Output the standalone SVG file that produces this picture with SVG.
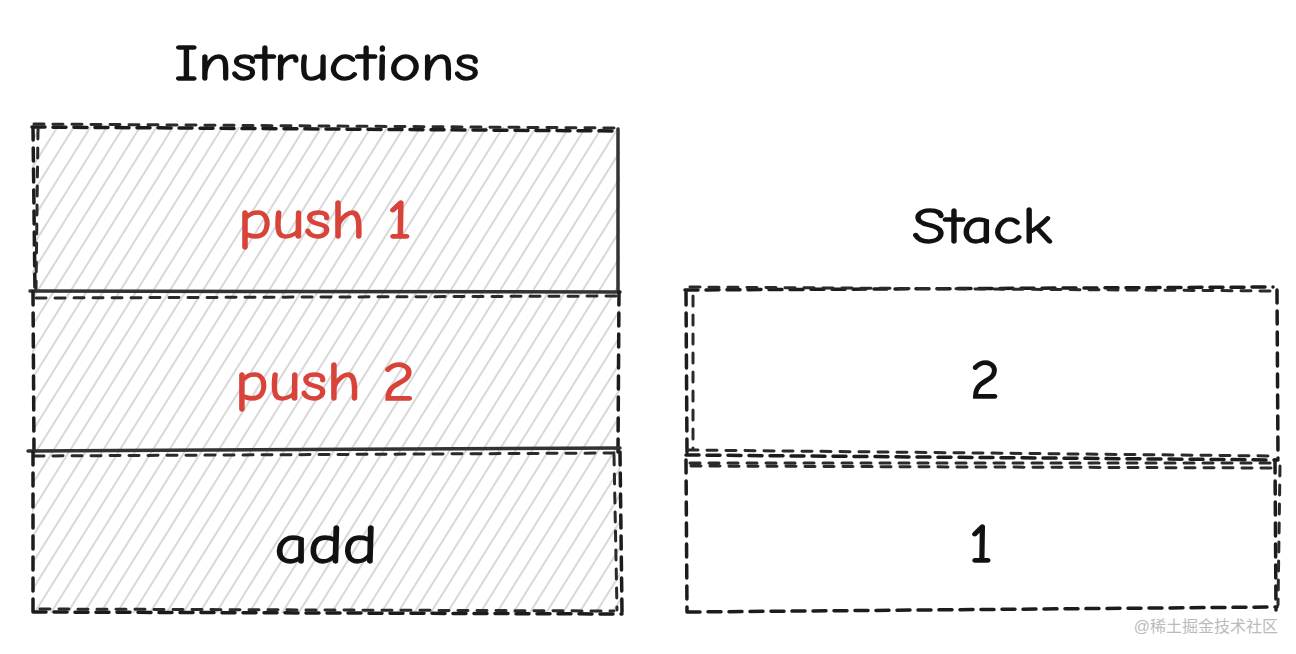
<svg xmlns="http://www.w3.org/2000/svg" width="1296" height="654" viewBox="0 0 1296 654">
<defs>
<pattern id="hatch" width="14" height="14" patternUnits="userSpaceOnUse" patternTransform="rotate(32)">
<line x1="4" y1="0" x2="4" y2="14" stroke="#d4d4d4" stroke-width="1.8"/>
</pattern>
</defs>
<style>
.t{font-family:"Comic Neue","Lato","Liberation Sans",sans-serif;text-anchor:middle;fill:#111;stroke:#111;stroke-width:1.3}
.red{fill:#d8433a;stroke:#d8433a}
.box{fill:none;stroke:#1c1c1c;stroke-width:3.5;stroke-dasharray:13 8;stroke-linecap:round}
.box2{fill:none;stroke:#2a2a2a;stroke-width:3;stroke-dasharray:10 9;stroke-linecap:round}
.solid{fill:none;stroke:#333;stroke-width:3.5;stroke-linecap:round}
</style>
<rect width="1296" height="654" fill="#fff"/>
<text class="t" x="327" y="80" font-size="50" textLength="305" lengthAdjust="spacingAndGlyphs">Instructions</text>
<text class="t" x="982" y="243" font-size="50" textLength="140" lengthAdjust="spacingAndGlyphs">Stack</text>
<g id="ins1">
<rect x="32" y="127" width="588" height="165" fill="url(#hatch)"/>
<path class="box" d="M32 127 L618 131 M33 127 L35 292"/>
<path class="box2" d="M34 124 L616 128 M38 129 L36 290"/>
<path class="solid" d="M618 129 L618 292"/>
<text class="t red" x="325" y="238" font-size="54" textLength="174" lengthAdjust="spacingAndGlyphs">push 1</text>
</g>
<g id="ins2">
<rect x="32" y="292" width="588" height="160" fill="url(#hatch)"/>
<path class="solid" d="M30 291 L620 292"/>
<path class="box2" d="M36 298 L618 296"/>
<path class="box" d="M33 292 L34 452 M619 292 L618 452"/>
<text class="t red" x="325" y="400" font-size="54" textLength="180" lengthAdjust="spacingAndGlyphs">push 2</text>
</g>
<g id="ins3">
<rect x="32" y="452" width="588" height="161" fill="url(#hatch)"/>
<path class="solid" d="M28 451 L620 448"/>
<path class="box2" d="M34 456 L617 453"/>
<path class="box" d="M33 452 L33 612 M620 452 L622 612 M33 612 L622 614"/>
<path class="box2" d="M40 609 L614 611 M614 455 L617 610"/>
<text class="t" x="326" y="563" font-size="54" textLength="103" lengthAdjust="spacingAndGlyphs">add</text>
</g>
<g id="stack2">
<path class="box" d="M685 290 L1273 287 M686 292 L687 452 M1277 290 L1278 458 M686 455 L1278 460"/>
<path class="box2" d="M690 287 L1278 291 M693 296 L693 450 M688 450 L1274 456"/>
<text class="t" x="985" y="398" font-size="54" textLength="30" lengthAdjust="spacingAndGlyphs">2</text>
</g>
<g id="stack1">
<path class="box" d="M686 460 L687 612 M1275 460 L1276 610 M687 612 L1277 607"/>
<path class="box2" d="M691 466 L1274 468 M690 463 L1270 463 M1280 466 L1278 605"/>
<text class="t" x="981" y="562" font-size="54" textLength="24" lengthAdjust="spacingAndGlyphs">1</text>
</g>
<g id="connectors"></g>
<text x="1278" y="632" font-family="'Liberation Sans','Noto Sans CJK SC',sans-serif" font-size="16" fill="#bbb" text-anchor="end">@稀土掘金技术社区</text>
</svg>
